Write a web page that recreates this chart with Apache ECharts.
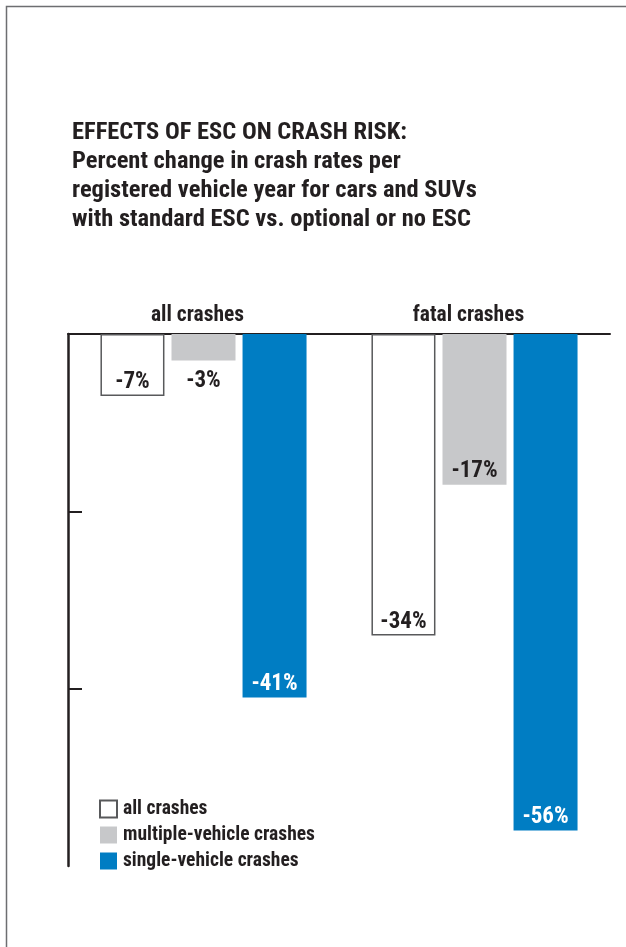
<!DOCTYPE html>
<html>
<head>
<meta charset="utf-8">
<script src="https://cdn.jsdelivr.net/npm/echarts@6/dist/echarts.min.js"></script>
<style>
html,body{margin:0;padding:0;background:#fff;}
#c{width:626px;height:947px;}
</style>
</head>
<body>
<div id="c"></div>
<script>
const categories = ['all crashes', 'fatal crashes'];
const allCrashes = [-7, -34];
const multiVehicle = [-3, -17];
const singleVehicle = [-41, -56];
const seriesNames = ['all crashes', 'multiple-vehicle crashes', 'single-vehicle crashes'];
const yTicks = [0, -20, -40];
const titleLines = [
  'EFFECTS OF ESC ON CRASH RISK:',
  'Percent change in crash rates per',
  'registered vehicle year for cars and SUVs',
  'with standard ESC vs. optional or no ESC'
];

const FONT = '"Roboto Condensed", "Open Sans", sans-serif';
const DARK = '#231f20';
const GRAY = '#c7c8ca';
const BLUE = '#007dc3';

const chart = echarts.init(document.getElementById('c'), null, {renderer: 'canvas'});

function lbl(color, pos, dist) {
  return {show: true, position: pos, distance: dist, formatter: '{c}%',
    color: color, fontFamily: FONT, fontWeight: 'bold', fontSize: 23};
}

chart.setOption({
  animation: false,
  backgroundColor: '#fff',
  title: {
    text: titleLines.join('\n'),
    left: 67, top: 113, padding: 5,
    textStyle: {fontFamily: FONT, fontWeight: 'bold', fontSize: 24.5, lineHeight: 29.2, color: DARK}
  },
  legend: {
    orient: 'vertical', left: 94, top: 794,
    itemWidth: 17, itemHeight: 17, itemGap: 6,
    icon: 'rect',
    data: seriesNames,
    textStyle: {fontFamily: FONT, fontWeight: 'bold', fontSize: 19.5, color: DARK, padding: [0, 0, 0, 1]}
  },
  grid: {left: 68, right: 16, top: 334, bottom: 81},
  xAxis: {
    type: 'category', position: 'top', data: categories,
    axisLine: {show: true, lineStyle: {color: DARK, width: 2}},
    axisTick: {show: false},
    axisLabel: {fontFamily: FONT, fontWeight: 'bold', fontSize: 21.5, color: DARK, margin: 7, padding: [0, 12, 0, 0]}
  },
  yAxis: {
    type: 'value', min: -60, max: 0, interval: 20,
    axisLine: {show: true, lineStyle: {color: DARK, width: 2.5}},
    axisTick: {show: true, inside: true, length: 14, customValues: yTicks, lineStyle: {color: DARK, width: 2}},
    axisLabel: {show: false},
    splitLine: {show: false}
  },
  series: [
    {
      name: seriesNames[0], type: 'bar', data: allCrashes, barWidth: 64, barGap: '11%',
      itemStyle: {color: '#fff', borderColor: '#58595b', borderWidth: 1.5},
      label: lbl(DARK, 'insideBottom', 2)
    },
    {
      name: seriesNames[1], type: 'bar', barWidth: 64, barGap: '11%',
      data: [
        {value: multiVehicle[0], label: lbl(DARK, 'bottom', 9)},
        {value: multiVehicle[1]}
      ],
      itemStyle: {color: GRAY},
      label: lbl(DARK, 'insideBottom', 2)
    },
    {
      name: seriesNames[2], type: 'bar', data: singleVehicle, barWidth: 64, barGap: '11%',
      itemStyle: {color: BLUE},
      label: lbl('#fff', 'insideBottom', 2)
    }
  ],
  graphic: [
    {type: 'polyline', shape: {points: [[6.5, 947], [6.5, 6.5], [626, 6.5]]},
     style: {stroke: '#6d6e71', lineWidth: 1.5, fill: null}}
  ]
});
</script>
</body>
</html>
